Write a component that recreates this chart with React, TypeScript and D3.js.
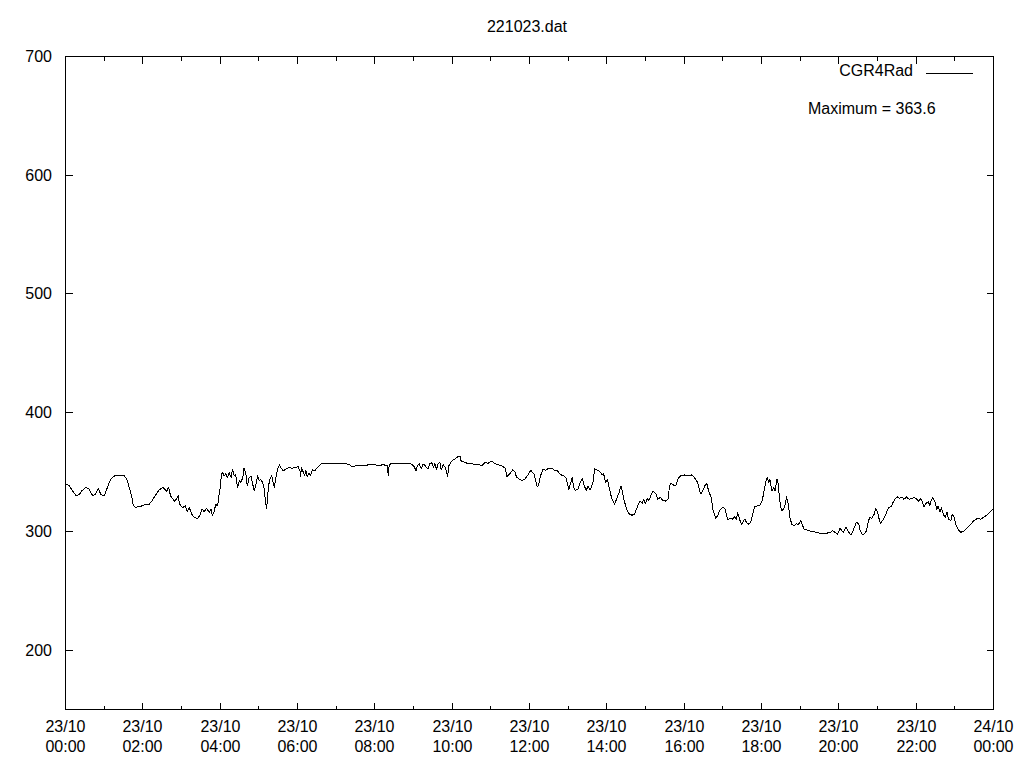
import React from 'react';
import * as d3 from 'd3';

// time of day in minutes since 23/10 00:00
const minutes = [
  0, 6, 11, 16, 21, 25, 31, 36, 39, 43, 47, 51, 55, 60, 65, 70, 76, 83, 91, 95, 99, 103, 105, 109, 114, 119, 125, 129, 134, 140,
  145, 151, 153, 157, 160, 163, 169, 172, 175, 177, 182, 186, 189, 192, 196, 200, 205, 208, 212, 215, 219, 223, 226, 228, 231, 233, 236, 238, 240, 242,
  244, 246, 249, 251, 254, 257, 259, 262, 264, 267, 270, 272, 275, 277, 280, 282, 285, 288, 290, 293, 295, 298, 301, 303, 306, 308, 310, 312, 315, 317,
  320, 324, 326, 329, 332, 334, 338, 342, 347, 352, 358, 361, 364, 365, 366, 369, 371, 373, 375, 378, 380, 383, 387, 391, 397, 410, 426, 436, 441, 444,
  452, 462, 472, 477, 485, 493, 499, 501, 502, 504, 514, 524, 534, 540, 544, 546, 549, 552, 555, 558, 560, 563, 565, 568, 571, 573, 576, 578, 581, 583,
  586, 589, 591, 593, 595, 599, 604, 609, 612, 614, 620, 625, 630, 635, 640, 646, 651, 656, 661, 666, 671, 677, 682, 685, 690, 694, 697, 700, 704, 708,
  713, 718, 722, 727, 729, 732, 734, 737, 741, 745, 750, 755, 759, 763, 767, 771, 774, 777, 781, 784, 786, 789, 791, 795, 798, 802, 805, 808, 811, 814,
  816, 819, 821, 825, 829, 833, 835, 838, 841, 843, 846, 848, 852, 855, 859, 862, 864, 867, 871, 874, 879, 883, 887, 890, 892, 895, 897, 900, 903, 905,
  909, 912, 916, 919, 923, 927, 931, 935, 937, 939, 943, 947, 950, 954, 960, 966, 972, 976, 979, 981, 984, 986, 990, 992, 995, 998, 1002, 1005, 1009, 1012,
  1015, 1019, 1023, 1026, 1028, 1031, 1035, 1038, 1041, 1043, 1046, 1049, 1052, 1054, 1057, 1060, 1063, 1067, 1069, 1073, 1077, 1081, 1084, 1087, 1089, 1091, 1093, 1096, 1099, 1101,
  1104, 1106, 1108, 1111, 1114, 1117, 1119, 1122, 1124, 1127, 1131, 1134, 1137, 1141, 1144, 1146, 1154, 1162, 1170, 1177, 1182, 1187, 1190, 1194, 1198, 1202, 1205, 1207, 1211, 1213,
  1217, 1220, 1224, 1227, 1231, 1233, 1236, 1239, 1243, 1246, 1248, 1251, 1255, 1257, 1260, 1263, 1265, 1269, 1273, 1277, 1281, 1284, 1287, 1291, 1294, 1298, 1301, 1305, 1309, 1313,
  1317, 1321, 1324, 1327, 1330, 1332, 1335, 1339, 1341, 1344, 1346, 1349, 1352, 1354, 1357, 1359, 1362, 1365, 1368, 1370, 1374, 1376, 1379, 1382, 1386, 1389, 1395, 1400, 1405, 1410,
  1415, 1420, 1426, 1431, 1436, 1440,
];

// CGR4Rad values
const values = [
  340.3, 338.3, 334.1, 330.5, 330.8, 334.0, 336.9, 336.3, 332.7, 329.9, 331.8, 336.0, 331.0, 329.9, 336.9, 343.9, 346.7, 347.3, 347.0, 343.9, 337.0, 328.5, 322.4, 320.1, 321.0, 321.5, 322.9, 322.4, 325.6, 330.7,
  334.7, 337.0, 336.0, 334.0, 337.0, 329.9, 325.6, 327.0, 329.9, 322.9, 320.1, 321.5, 316.7, 320.1, 314.5, 311.7, 310.8, 313.1, 318.7, 316.7, 319.5, 315.9, 318.7, 313.1, 317.3, 322.9, 321.5, 329.9, 336.9, 348.1,
  349.5, 346.7, 348.7, 345.3, 349.5, 345.3, 352.4, 346.7, 348.1, 336.9, 343.0, 341.0, 345.3, 353.2, 348.1, 338.3, 345.3, 346.7, 341.0, 334.0, 338.3, 346.7, 342.5, 343.9, 341.0, 337.0, 327.1, 319.0, 338.0, 343.9,
  346.7, 337.0, 343.9, 352.4, 356.0, 353.8, 351.0, 352.4, 353.8, 353.2, 354.0, 354.5, 350.6, 346.2, 354.0, 349.8, 347.0, 351.2, 346.2, 349.0, 347.0, 351.8, 351.2, 354.0, 356.8, 356.8, 357.4, 356.8, 356.2, 354.5,
  355.4, 355.4, 356.2, 356.8, 355.4, 356.2, 355.4, 347.0, 354.5, 356.8, 357.4, 357.4, 357.4, 355.4, 351.2, 355.4, 356.8, 352.6, 356.8, 355.4, 354.0, 352.6, 356.8, 358.2, 354.0, 357.4, 351.8, 356.8, 358.2, 351.8,
  356.2, 354.0, 351.2, 346.2, 355.4, 359.1, 361.0, 363.0, 363.6, 359.1, 358.2, 356.8, 357.4, 356.2, 356.8, 355.4, 358.2, 357.4, 359.1, 357.4, 356.2, 355.4, 353.4, 346.2, 349.0, 351.8, 350.6, 345.6, 344.2, 342.8,
  344.2, 347.9, 351.5, 348.1, 343.9, 337.5, 339.2, 346.7, 352.4, 351.5, 353.2, 353.2, 351.5, 351.0, 348.7, 346.7, 346.7, 344.7, 335.5, 341.1, 345.3, 336.9, 334.7, 335.5, 340.5, 344.7, 338.3, 334.7, 338.3, 334.7,
  336.9, 342.5, 352.9, 351.5, 350.4, 347.6, 348.7, 341.1, 343.9, 338.3, 331.3, 327.1, 322.9, 327.1, 332.7, 338.3, 334.0, 325.6, 318.7, 315.0, 313.6, 314.5, 320.1, 324.3, 325.6, 323.4, 327.1, 323.4, 327.9, 325.6,
  331.3, 334.0, 331.8, 327.1, 328.5, 326.2, 325.6, 327.1, 336.9, 340.5, 339.2, 338.3, 343.9, 346.7, 347.6, 346.7, 347.6, 345.3, 343.0, 341.1, 334.0, 331.8, 335.5, 338.3, 340.5, 334.0, 328.5, 317.3, 311.1, 313.1,
  317.8, 320.1, 319.5, 313.1, 309.4, 311.1, 310.3, 312.2, 310.3, 315.9, 310.3, 305.5, 308.9, 310.3, 307.5, 306.1, 307.5, 315.9, 320.7, 321.5, 321.5, 325.6, 334.0, 342.5, 345.8, 341.1, 343.9, 334.0, 336.9, 334.0,
  343.9, 339.7, 327.1, 317.3, 318.7, 322.9, 329.0, 321.5, 311.7, 306.1, 304.7, 306.6, 305.5, 308.9, 304.7, 301.9, 300.5, 299.7, 298.6, 298.3, 298.6, 299.2, 300.5, 299.2, 297.8, 302.7, 300.5, 299.2, 303.3, 301.9,
  297.8, 297.8, 303.3, 307.5, 306.6, 300.5, 297.8, 297.8, 300.5, 308.9, 311.7, 311.1, 314.5, 319.5, 316.1, 309.4, 306.6, 310.3, 314.5, 320.1, 320.7, 324.3, 327.1, 329.0, 327.9, 329.0, 327.1, 329.0, 327.1, 327.9,
  328.5, 327.1, 325.2, 327.9, 324.3, 320.7, 323.5, 325.2, 321.5, 327.1, 328.5, 325.2, 318.7, 321.5, 316.1, 320.1, 314.5, 311.7, 316.1, 310.3, 309.4, 314.5, 311.7, 304.7, 301.0, 299.2, 300.5, 303.3, 306.1, 309.4,
  310.8, 310.3, 312.2, 314.5, 317.3, 319.5,
];

const yTickValues = [200, 300, 400, 500, 600, 700];
const xMajorHours = [0, 2, 4, 6, 8, 10, 12, 14, 16, 18, 20, 22, 24];
const xMinorHours = [1, 3, 5, 7, 9, 11, 13, 15, 17, 19, 21, 23];
const xDateLabels = ['23/10', '23/10', '23/10', '23/10', '23/10', '23/10', '23/10', '23/10', '23/10', '23/10', '23/10', '23/10', '24/10'];
const xTimeLabels = ['00:00', '02:00', '04:00', '06:00', '08:00', '10:00', '12:00', '14:00', '16:00', '18:00', '20:00', '22:00', '00:00'];

const title = '221023.dat';
const seriesName = 'CGR4Rad';
const maxLabel = 'Maximum = 363.6';

export default function App() {
  const W = 1024;
  const H = 768;
  const left = 65.5;
  const right = 993.5;
  const top = 56.5;
  const bottom = 709.5;
  const major = 7;
  const minor = 4;

  const x = d3.scaleLinear().domain([0, 1440]).range([left, right]);
  const y = d3.scaleLinear().domain([150, 700]).range([bottom, top]);
  const line = d3
    .line<number>()
    .x((_, i) => x(minutes[i]))
    .y((d) => y(d));

  const font = { fontFamily: '"Liberation Sans", Arial, sans-serif', fontSize: 16, fill: '#000' };

  return (
    <div style={{ position: 'absolute', left: 0, top: 0 }}>
      <svg width={W} height={H} viewBox={`0 0 ${W} ${H}`} style={{ display: 'block', background: '#fff' }}>
        <rect x={0} y={0} width={W} height={H} fill="#fff" />
        <text x={527} y={32} textAnchor="middle" style={font}>{title}</text>

        {/* y ticks and labels */}
        {yTickValues.map((v) => {
          const yy = Math.round(y(v) - 0.5) + 0.5;
          return (
            <g key={'y' + v}>
              <line x1={left} x2={left + major} y1={yy} y2={yy} stroke="#000" strokeWidth={1} shapeRendering="crispEdges" />
              <line x1={right - major} x2={right} y1={yy} y2={yy} stroke="#000" strokeWidth={1} shapeRendering="crispEdges" />
              <text x={52} y={yy + 5.5} textAnchor="end" style={font}>{v}</text>
            </g>
          );
        })}

        {/* x major ticks and labels */}
        {xMajorHours.map((h, i) => {
          const xx = Math.round(x(h * 60) - 0.5) + 0.5;
          return (
            <g key={'xM' + h}>
              <line x1={xx} x2={xx} y1={bottom} y2={bottom - major} stroke="#000" strokeWidth={1} shapeRendering="crispEdges" />
              <line x1={xx} x2={xx} y1={top} y2={top + major} stroke="#000" strokeWidth={1} shapeRendering="crispEdges" />
              <text x={xx} y={732} textAnchor="middle" style={font}>{xDateLabels[i]}</text>
              <text x={xx} y={752} textAnchor="middle" style={font}>{xTimeLabels[i]}</text>
            </g>
          );
        })}
        {xMinorHours.map((h) => {
          const xx = Math.round(x(h * 60) - 0.5) + 0.5;
          return (
            <g key={'xm' + h}>
              <line x1={xx} x2={xx} y1={bottom} y2={bottom - minor} stroke="#000" strokeWidth={1} shapeRendering="crispEdges" />
              <line x1={xx} x2={xx} y1={top} y2={top + minor} stroke="#000" strokeWidth={1} shapeRendering="crispEdges" />
            </g>
          );
        })}

        {/* data line */}
        <path d={line(values) || ''} fill="none" stroke="#000" strokeWidth={1} strokeLinejoin="round" shapeRendering="crispEdges" />

        {/* frame */}
        <rect x={left} y={top} width={right - left} height={bottom - top} fill="none" stroke="#000" strokeWidth={1} shapeRendering="crispEdges" />

        {/* legend */}
        <text x={913} y={76} textAnchor="end" style={font}>{seriesName}</text>
        <line x1={926} x2={973} y1={73.5} y2={73.5} stroke="#000" strokeWidth={1} shapeRendering="crispEdges" />
        <text x={808} y={114} style={font}>{maxLabel}</text>
      </svg>
    </div>
  );
}
